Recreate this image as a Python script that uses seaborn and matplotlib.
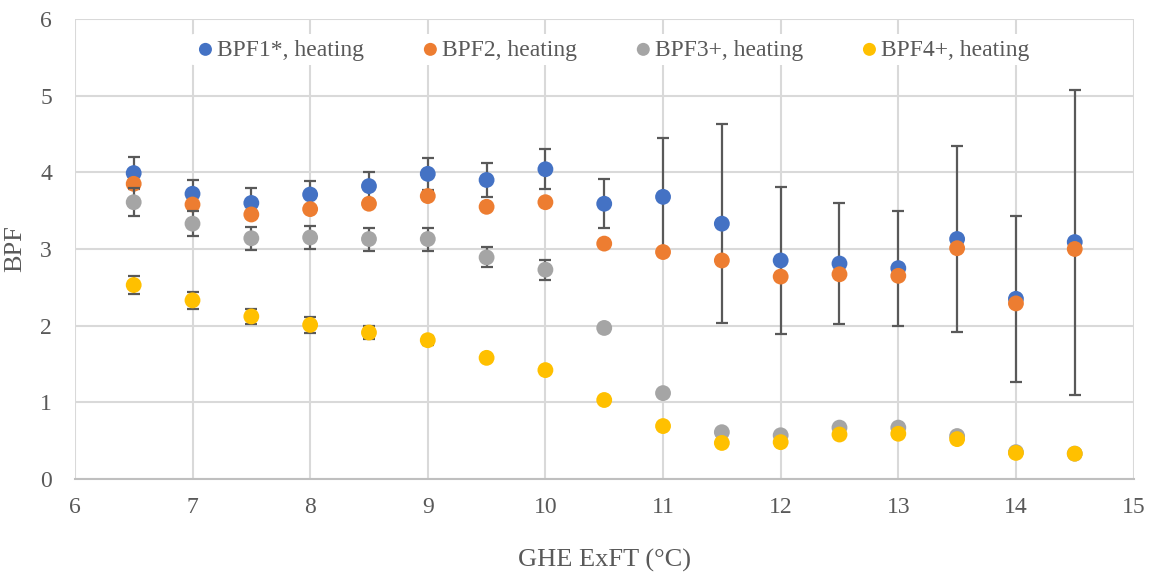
import numpy as np
import pandas as pd
import matplotlib
matplotlib.use("Agg")
import matplotlib.pyplot as plt
import seaborn as sns

# GHE exiting fluid temperature bins (°C)
exft = [6.5, 7.0, 7.5, 8.0, 8.5, 9.0, 9.5, 10.0, 10.5, 11.0, 11.5, 12.0, 12.5, 13.0, 13.5, 14.0, 14.5]

bpf1 = [3.99, 3.72, 3.60, 3.71, 3.82, 3.98, 3.90, 4.04, 3.59, 3.68, 3.33, 2.85, 2.81, 2.75, 3.13, 2.35, 3.09]
bpf1_err = [0.21, 0.18, 0.19, 0.18, 0.19, 0.21, 0.22, 0.26, 0.32, 0.77, 1.30, 0.96, 0.79, 0.75, 1.21, 1.08, 1.99]

bpf2 = [3.85, 3.58, 3.45, 3.52, 3.59, 3.69, 3.55, 3.61, 3.07, 2.96, 2.85, 2.64, 2.67, 2.65, 3.01, 2.29, 3.00]

bpf3 = [3.61, 3.33, 3.14, 3.15, 3.13, 3.13, 2.89, 2.73, 1.97, 1.12, 0.61, 0.57, 0.67, 0.67, 0.56, 0.35, 0.33]
bpf3_err = [0.18, 0.16, 0.15, 0.15, 0.15, 0.15, 0.13, 0.13, 0.05, 0.0, 0.0, 0.0, 0.0, 0.0, 0.0, 0.0, 0.0]

bpf4 = [2.53, 2.33, 2.12, 2.01, 1.91, 1.81, 1.58, 1.42, 1.03, 0.69, 0.47, 0.48, 0.58, 0.59, 0.52, 0.34, 0.33]
bpf4_err = [0.12, 0.11, 0.10, 0.10, 0.08, 0.06, 0.04, 0.03, 0.0, 0.0, 0.0, 0.0, 0.0, 0.0, 0.0, 0.0, 0.0]

labels = ["BPF1*, heating", "BPF2, heating", "BPF3+, heating", "BPF4+, heating"]
colors = ["#4472C4", "#ED7D31", "#A5A5A5", "#FFC000"]
series = [bpf1, bpf2, bpf3, bpf4]
errors = [bpf1_err, None, bpf3_err, bpf4_err]

sns.set_theme(style="white")
plt.rcParams["font.family"] = ["Liberation Serif", "DejaVu Serif"]
text_color = "#595959"
grid_color = "#D9D9D9"

fig = plt.figure(figsize=(11.52, 5.75), dpi=100)
ax = fig.add_axes([0.065, 0.167, 0.919, 0.800])

z = 3
for vals, err, col, lab in zip(series, errors, colors, labels):
    df = pd.DataFrame({"x": exft, "y": vals})
    if err is not None:
        e = np.array(err)
        m = e > 0
        ax.errorbar(np.array(exft)[m], np.array(vals)[m], yerr=e[m], fmt="none",
                    ecolor="#595959", elinewidth=1.6, capsize=4.5, capthick=1.6, zorder=z)
    sns.scatterplot(data=df, x="x", y="y", ax=ax, color=col, s=130,
                    edgecolor="none", linewidth=0, label=lab, zorder=z + 1)
    z += 2

ax.set_xlim(6, 15)
ax.set_ylim(0, 6)
ax.set_xticks(range(6, 16))
ax.set_yticks(range(0, 7))
ax.grid(True, color=grid_color, linewidth=1.5)
ax.set_axisbelow(True)
for s in ax.spines.values():
    s.set_visible(False)
ax.spines["bottom"].set_visible(True)
ax.spines["bottom"].set_color("#BFBFBF")
ax.spines["bottom"].set_linewidth(1.5)

ax.tick_params(axis="both", which="both", length=0, labelsize=17, labelcolor=text_color)
ax.tick_params(axis="x", pad=13)
ax.tick_params(axis="y", pad=16.5)
ax.set_xlabel("GHE ExFT (°C)", fontsize=19, color=text_color, labelpad=22)
ax.set_ylabel("BPF", fontsize=19, color=text_color, labelpad=10)

leg = ax.legend(loc="center", bbox_to_anchor=(0.507, 0.933), ncol=4, frameon=True,
                fontsize=17, handletextpad=0.0, columnspacing=2.3, markerscale=0.82,
                borderpad=0.2, handlelength=1.0)
leg.get_frame().set_facecolor("white")
leg.get_frame().set_edgecolor("none")
leg.get_frame().set_alpha(1.0)
for t in leg.get_texts():
    t.set_color(text_color)

fig.savefig("out.png", dpi=100, facecolor="white")
